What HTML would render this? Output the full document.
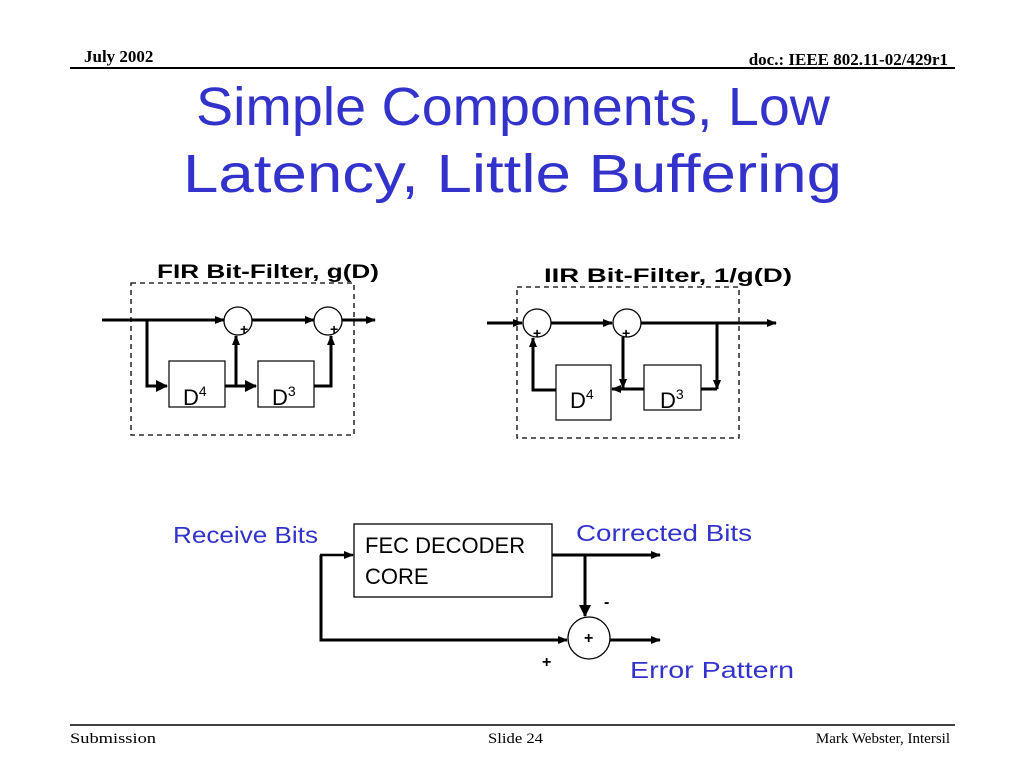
<!DOCTYPE html>
<html><head><meta charset="utf-8"><style>
html,body{margin:0;padding:0;background:#fff;width:1024px;height:768px;overflow:hidden}
svg{display:block}
</style></head><body>
<svg width="1024" height="768" viewBox="0 0 1024 768" xmlns="http://www.w3.org/2000/svg">
<defs>
<marker id="a" markerWidth="10" markerHeight="10" refX="9" refY="5" orient="auto" markerUnits="userSpaceOnUse">
<path d="M0,1 L10,5 L0,9 z" fill="#000"/></marker>
<marker id="b" markerWidth="12" markerHeight="12" refX="11" refY="6" orient="auto" markerUnits="userSpaceOnUse">
<path d="M0,0 L12,6 L0,12 z" fill="#000"/></marker>
</defs>
<!-- header -->
<text x="84" y="62" font-family="Liberation Serif" font-weight="bold" font-size="17">July 2002</text>
<text x="948" y="65" text-anchor="end" font-family="Liberation Serif" font-weight="bold" font-size="17">doc.: IEEE 802.11-02/429r1</text>
<line x1="70" y1="68" x2="955" y2="68" stroke="#000" stroke-width="2"/>
<!-- title -->
<g font-family="Liberation Sans, sans-serif" font-size="54" fill="#3333cc">
<text x="196" y="125" textLength="634" lengthAdjust="spacingAndGlyphs">Simple Components, Low</text>
<text x="183" y="192" textLength="659" lengthAdjust="spacingAndGlyphs">Latency, Little Buffering</text>
</g>
<!-- FIR -->
<g stroke="#000" fill="none">
<rect x="131" y="283" width="223" height="152" stroke-width="1.3" stroke-dasharray="5,4"/>
<line x1="102" y1="320" x2="224" y2="320" stroke-width="3" marker-end="url(#a)"/>
<circle cx="238" cy="321" r="14" fill="#fff" stroke-width="1.3"/>
<line x1="252" y1="320" x2="314" y2="320" stroke-width="3" marker-end="url(#a)"/>
<circle cx="328" cy="321" r="14" fill="#fff" stroke-width="1.3"/>
<line x1="342" y1="320" x2="375" y2="320" stroke-width="3" marker-end="url(#a)"/>
<polyline points="147,320 147,386 167,386" stroke-width="3" marker-end="url(#b)"/>
<rect x="169" y="361" width="56" height="46" stroke-width="1.2"/>
<line x1="225" y1="386" x2="256" y2="386" stroke-width="3" marker-end="url(#b)"/>
<line x1="236" y1="386" x2="236" y2="336" stroke-width="3" marker-end="url(#a)"/>
<rect x="258" y="361" width="56" height="46" stroke-width="1.2"/>
<polyline points="314,386 331,386 331,336" stroke-width="3" marker-end="url(#a)"/>
</g>
<g font-family="Liberation Sans, sans-serif" font-weight="bold" font-size="14"><text x="240" y="334">+</text><text x="330" y="334">+</text></g>
<g font-family="Liberation Sans, sans-serif" font-size="22"><text x="183" y="405">D<tspan font-size="14" dy="-9">4</tspan></text><text x="272" y="405">D<tspan font-size="14" dy="-9">3</tspan></text></g>
<text x="157" y="278" font-family="Liberation Sans, sans-serif" font-weight="bold" font-size="19" textLength="222" lengthAdjust="spacingAndGlyphs">FIR Bit-Filter, g(D)</text>
<!-- IIR -->
<g stroke="#000" fill="none">
<rect x="517" y="287" width="222" height="151" stroke-width="1.3" stroke-dasharray="5,4"/>
<line x1="487" y1="323" x2="522" y2="323" stroke-width="3" marker-end="url(#a)"/>
<circle cx="537" cy="323" r="14" fill="#fff" stroke-width="1.3"/>
<line x1="551" y1="323" x2="612" y2="323" stroke-width="3" marker-end="url(#a)"/>
<circle cx="627" cy="323" r="14" fill="#fff" stroke-width="1.3"/>
<line x1="641" y1="323" x2="776" y2="323" stroke-width="3" marker-end="url(#a)"/>
<line x1="717" y1="323" x2="717" y2="389" stroke-width="3" marker-end="url(#a)"/>
<rect x="644" y="365" width="57" height="45" stroke-width="1.2"/>
<line x1="701" y1="389" x2="717" y2="389" stroke-width="3"/>
<line x1="644" y1="389" x2="612" y2="389" stroke-width="3" marker-end="url(#a)"/>
<line x1="623" y1="337" x2="623" y2="388" stroke-width="3" marker-end="url(#a)"/>
<rect x="556" y="365" width="55" height="55" stroke-width="1.2"/>
<polyline points="556,390 533,390 533,338" stroke-width="3" marker-end="url(#a)"/>
</g>
<g font-family="Liberation Sans, sans-serif" font-weight="bold" font-size="14"><text x="533" y="338">+</text><text x="622" y="338">+</text></g>
<g font-family="Liberation Sans, sans-serif" font-size="22"><text x="570" y="408">D<tspan font-size="14" dy="-9">4</tspan></text><text x="660" y="408">D<tspan font-size="14" dy="-9">3</tspan></text></g>
<text x="544" y="282" font-family="Liberation Sans, sans-serif" font-weight="bold" font-size="19" textLength="248" lengthAdjust="spacingAndGlyphs">IIR Bit-Filter, 1/g(D)</text>
<!-- bottom -->
<g stroke="#000" fill="none">
<rect x="354" y="524" width="198" height="73" stroke-width="1.3"/>
<line x1="320" y1="555" x2="353" y2="555" stroke-width="2.5" marker-end="url(#a)"/>
<polyline points="321,555 321,640 567,640" stroke-width="3" marker-end="url(#a)"/>
<line x1="552" y1="555" x2="660" y2="555" stroke-width="3" marker-end="url(#a)"/>
<line x1="585" y1="555" x2="585" y2="616" stroke-width="3" marker-end="url(#b)"/>
<circle cx="589" cy="638" r="21" fill="#fff" stroke-width="1.3"/>
<line x1="610" y1="640" x2="660" y2="640" stroke-width="3" marker-end="url(#a)"/>
</g>
<g font-family="Liberation Sans, sans-serif" font-size="22"><text x="365" y="553">FEC DECODER</text><text x="365" y="584">CORE</text></g>
<g font-family="Liberation Sans, sans-serif" font-weight="bold" font-size="16"><text x="584" y="643">+</text><text x="542" y="667">+</text><text x="604" y="607">-</text></g>
<g font-family="Liberation Sans, sans-serif" font-size="23" fill="#3333cc">
<text x="173" y="543" textLength="145" lengthAdjust="spacingAndGlyphs">Receive Bits</text>
<text x="576" y="541" textLength="176" lengthAdjust="spacingAndGlyphs">Corrected Bits</text>
<text x="630" y="678" textLength="164" lengthAdjust="spacingAndGlyphs">Error Pattern</text>
</g>
<!-- footer -->
<line x1="70" y1="725" x2="955" y2="725" stroke="#000" stroke-width="1.5"/>
<g font-family="Liberation Serif" font-size="15">
<text x="70" y="743" textLength="86" lengthAdjust="spacingAndGlyphs">Submission</text>
<text x="488" y="743" textLength="55" lengthAdjust="spacingAndGlyphs">Slide 24</text>
<text x="950" y="743" text-anchor="end">Mark Webster, Intersil</text>
</g>
</svg>
</body></html>
